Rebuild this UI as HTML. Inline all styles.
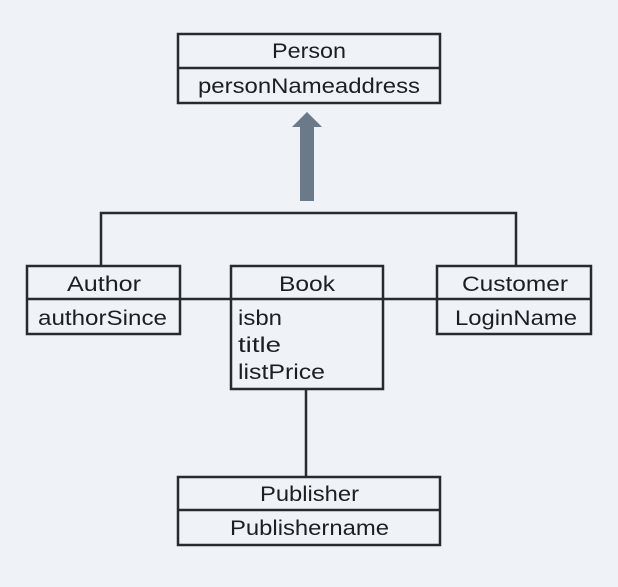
<!DOCTYPE html>
<html><head><meta charset="utf-8"><style>
html,body{margin:0;padding:0;background:#eff2f6;}
svg{display:block}
text{font-family:"Liberation Sans","DejaVu Sans",sans-serif;font-size:21px;fill:#1b1f23}
</style></head><body>
<svg width="618" height="587" viewBox="0 0 618 587" xmlns="http://www.w3.org/2000/svg">
<rect width="618" height="587" fill="#eff2f6"/>
<g stroke="#252b30" stroke-width="2.5" fill="none">
<polyline points="101,266 101,213 516,213 516,266"/>
<line x1="180" y1="299" x2="437" y2="299"/>
<line x1="306" y1="389" x2="306" y2="477"/>
<rect x="178" y="34" width="262" height="69" fill="#eff2f6"/>
<line x1="178" y1="68" x2="440" y2="68"/>
<rect x="27" y="266" width="153" height="68" fill="#eff2f6"/>
<line x1="27" y1="299" x2="180" y2="299"/>
<rect x="231" y="266" width="152" height="123" fill="#eff2f6"/>
<line x1="231" y1="299" x2="383" y2="299"/>
<rect x="437" y="266" width="154" height="68" fill="#eff2f6"/>
<line x1="437" y1="299" x2="591" y2="299"/>
<rect x="178" y="477" width="262" height="68" fill="#eff2f6"/>
<line x1="178" y1="510" x2="440" y2="510"/>
</g>
<polygon points="300,201 314,201 314,127 322,127 307,112 292,127 300,127" fill="#6b7a89"/>
<text x="272" y="58" textLength="74" lengthAdjust="spacingAndGlyphs">Person</text>
<text x="198" y="93" textLength="222" lengthAdjust="spacingAndGlyphs">personNameaddress</text>
<text x="67" y="291" textLength="74" lengthAdjust="spacingAndGlyphs">Author</text>
<text x="38" y="325" textLength="129" lengthAdjust="spacingAndGlyphs">authorSince</text>
<text x="279" y="291" textLength="56" lengthAdjust="spacingAndGlyphs">Book</text>
<text x="238" y="325" textLength="44" lengthAdjust="spacingAndGlyphs">isbn</text>
<text x="238" y="352" textLength="43" lengthAdjust="spacingAndGlyphs">title</text>
<text x="238" y="379" textLength="87" lengthAdjust="spacingAndGlyphs">listPrice</text>
<text x="462" y="291" textLength="106" lengthAdjust="spacingAndGlyphs">Customer</text>
<text x="455" y="325" textLength="122" lengthAdjust="spacingAndGlyphs">LoginName</text>
<text x="260" y="501" textLength="99" lengthAdjust="spacingAndGlyphs">Publisher</text>
<text x="230" y="535" textLength="159" lengthAdjust="spacingAndGlyphs">Publishername</text>
</svg>
</body></html>
